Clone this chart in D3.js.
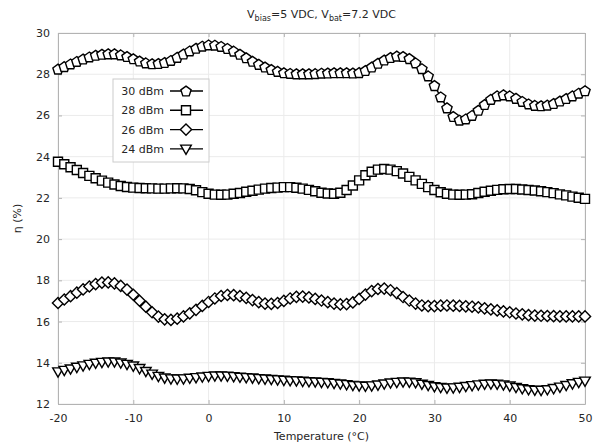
<!DOCTYPE html>
<html>
<head>
<meta charset="utf-8">
<script src="https://cdn.jsdelivr.net/npm/d3@7"></script>
<style>
  body { margin: 0; background: #fff; }
  text { font-family: "DejaVu Sans", sans-serif; fill: #262626; }
</style>
</head>
<body>
<svg id="chart"></svg>
<script>
// 85 readings spread evenly between -20 and 50 degrees
const temps = d3.range(85).map(k => -20 + k * 70 / 84);

const eff30 = [28.25, 28.37, 28.5, 28.62, 28.74, 28.84, 28.92, 28.97, 28.99, 28.99,
  28.94, 28.86, 28.75, 28.64, 28.55, 28.51, 28.52, 28.57, 28.67, 28.82,
  28.98, 29.13, 29.26, 29.36, 29.42, 29.41, 29.35, 29.25, 29.12, 28.97,
  28.8, 28.63, 28.48, 28.35, 28.23, 28.14, 28.07, 28.04, 28.02, 28.02,
  28.02, 28.03, 28.05, 28.06, 28.07, 28.07, 28.07, 28.06, 28.08, 28.18,
  28.35, 28.53, 28.69, 28.81, 28.88, 28.86, 28.76, 28.55, 28.27, 27.92,
  27.45, 26.9, 26.37, 25.95, 25.77, 25.83, 26.0, 26.25, 26.53, 26.78,
  26.95, 27.0, 26.95, 26.83, 26.68, 26.56, 26.49, 26.47, 26.5, 26.58,
  26.7, 26.82, 26.95, 27.08, 27.2];

const eff28 = [23.75, 23.63, 23.49, 23.35, 23.21, 23.07, 22.95, 22.84, 22.74, 22.65,
  22.58, 22.53, 22.5, 22.48, 22.47, 22.46, 22.45, 22.45, 22.46, 22.47,
  22.46, 22.43, 22.37, 22.28, 22.2, 22.16, 22.15, 22.16, 22.2, 22.24,
  22.3, 22.35, 22.4, 22.45, 22.48, 22.5, 22.52, 22.52, 22.49, 22.45,
  22.39, 22.32, 22.25, 22.21, 22.2, 22.25, 22.38, 22.6, 22.85, 23.1,
  23.27, 23.37, 23.4, 23.37, 23.3, 23.18, 23.02, 22.85, 22.68, 22.52,
  22.38, 22.27, 22.2, 22.16, 22.15, 22.16, 22.18, 22.24, 22.3, 22.35,
  22.39, 22.42, 22.43, 22.43, 22.41, 22.38, 22.36, 22.32, 22.28, 22.23,
  22.17, 22.12, 22.06, 22.01, 21.95];

const eff26 = [16.9, 17.07, 17.23, 17.4, 17.56, 17.7, 17.82, 17.89, 17.9, 17.85,
  17.73, 17.55, 17.3, 17.01, 16.72, 16.45, 16.24, 16.11, 16.08, 16.14,
  16.25, 16.4, 16.57, 16.76, 16.95, 17.12, 17.24, 17.29, 17.28, 17.23,
  17.15, 17.04, 16.94, 16.87, 16.86, 16.9, 17.0, 17.12, 17.2, 17.21,
  17.17, 17.1, 17.02, 16.94, 16.87, 16.83, 16.85, 16.93, 17.1, 17.31,
  17.48, 17.58, 17.6, 17.52, 17.38, 17.19, 17.02, 16.87, 16.78, 16.75,
  16.75, 16.77, 16.78, 16.77, 16.76, 16.74, 16.72, 16.69, 16.64, 16.59,
  16.54, 16.49, 16.45, 16.39, 16.35, 16.31, 16.29, 16.28, 16.27, 16.26,
  16.25, 16.25, 16.25, 16.25, 16.25];

const eff24 = [13.57, 13.64, 13.71, 13.79, 13.86, 13.93, 13.99, 14.03, 14.05, 14.05,
  14.0, 13.93, 13.85, 13.73, 13.59, 13.46, 13.35, 13.27, 13.23, 13.22,
  13.23, 13.26, 13.29, 13.32, 13.35, 13.37, 13.37, 13.36, 13.34, 13.31,
  13.29, 13.27, 13.24, 13.22, 13.2, 13.18, 13.16, 13.14, 13.13, 13.11,
  13.09, 13.08, 13.06, 13.04, 13.01, 12.98, 12.95, 12.91, 12.89, 12.87,
  12.89, 12.93, 12.98, 13.03, 13.06, 13.08, 13.07, 13.04, 12.97, 12.91,
  12.85, 12.81, 12.78, 12.79, 12.82, 12.86, 12.9, 12.94, 12.97, 12.98,
  12.97, 12.94, 12.88, 12.81, 12.75, 12.7, 12.68, 12.67, 12.7, 12.76,
  12.83, 12.91, 12.99, 13.06, 13.12];

const seriesNames = ["30 dBm", "28 dBm", "26 dBm", "24 dBm"];
const seriesValues = [eff30, eff28, eff26, eff24];
const seriesMarkers = ["pentagon", "square", "diamond", "triangleDown"];

const xTicks = [-20, -10, 0, 10, 20, 30, 40, 50];
const yTicks = [12, 14, 16, 18, 20, 22, 24, 26, 28, 30];

const width = 594, height = 443;
const margin = { top: 33, right: 9, bottom: 39, left: 58 };
const innerW = width - margin.left - margin.right;
const innerH = height - margin.top - margin.bottom;

const svg = d3.select("#chart").attr("width", width).attr("height", height);
const chart = svg.append("g").attr("transform", `translate(${margin.left},${margin.top})`);

const xScale = d3.scaleLinear().domain([-20, 50]).range([0, innerW]);
const yScale = d3.scaleLinear().domain([12, 30]).range([innerH, 0]);

// marker shapes, centred on 0,0
function markerPath(kind) {
  if (kind === "pentagon") {
    const r = 5.4;
    const pts = d3.range(5).map(i => {
      const a = -Math.PI / 2 + i * 2 * Math.PI / 5;
      return [r * Math.cos(a), r * Math.sin(a) + 0.5];
    });
    return "M" + pts.join("L") + "Z";
  }
  if (kind === "square") return "M-4.5,-4.5H4.5V4.5H-4.5Z";
  if (kind === "diamond") return "M0,-5.6L5.6,0L0,5.6L-5.6,0Z";
  return "M-5.3,-3.8H5.3L0,5.4Z";
}

// grid
chart.append("g")
  .selectAll("line").data(xTicks).join("line")
  .attr("x1", d => xScale(d)).attr("x2", d => xScale(d))
  .attr("y1", 0).attr("y2", innerH)
  .attr("stroke", "#ebebeb").attr("stroke-width", 1);
chart.append("g")
  .selectAll("line").data(yTicks).join("line")
  .attr("x1", 0).attr("x2", innerW)
  .attr("y1", d => yScale(d)).attr("y2", d => yScale(d))
  .attr("stroke", "#ebebeb").attr("stroke-width", 1);

// axes, ticks pointing inward
const xAxis = chart.append("g")
  .attr("transform", `translate(0,${innerH})`)
  .call(d3.axisBottom(xScale).tickValues(xTicks).tickFormat(d => String(d))
    .tickSizeInner(-4).tickSizeOuter(0).tickPadding(10));
const yAxis = chart.append("g")
  .call(d3.axisLeft(yScale).tickValues(yTicks).tickFormat(d => String(d))
    .tickSizeInner(-4).tickSizeOuter(0).tickPadding(8));
const xTop = chart.append("g")
  .call(d3.axisTop(xScale).tickValues(xTicks).tickSizeInner(-4).tickSizeOuter(0).tickFormat(""));
const yRight = chart.append("g")
  .attr("transform", `translate(${innerW},0)`)
  .call(d3.axisRight(yScale).tickValues(yTicks).tickSizeInner(-4).tickSizeOuter(0).tickFormat(""));

[xAxis, yAxis, xTop, yRight].forEach(ax => {
  ax.select(".domain").attr("stroke", "#b3b3b3");
  ax.selectAll(".tick line").attr("stroke", "#b3b3b3");
  ax.selectAll(".tick text").attr("font-size", 11).attr("fill", "#262626")
    .attr("font-family", "DejaVu Sans, sans-serif");
});

// series: line first, then the markers on top
const line = d3.line()
  .x((d, i) => xScale(temps[i]))
  .y(d => yScale(d));

seriesValues.forEach((vals, k) => {
  const g = chart.append("g");
  g.append("path")
    .datum(vals)
    .attr("fill", "none")
    .attr("stroke", "#000")
    .attr("stroke-width", 1.4)
    .attr("d", line);
  g.selectAll("path.mk").data(vals).join("path")
    .attr("class", "mk")
    .attr("d", markerPath(seriesMarkers[k]))
    .attr("transform", (d, i) => `translate(${xScale(temps[i])},${yScale(d)})`)
    .attr("fill", "#fff")
    .attr("stroke", "#000")
    .attr("stroke-width", 1.4);
});

// legend
const legend = svg.append("g").attr("transform", "translate(113,79)");
legend.append("rect")
  .attr("width", 96).attr("height", 83)
  .attr("fill", "#fff").attr("stroke", "#cccccc").attr("stroke-width", 1);
seriesNames.forEach((name, k) => {
  const y = 12 + k * 19.3;
  legend.append("text")
    .attr("x", 51).attr("y", y + 4)
    .attr("text-anchor", "end")
    .attr("font-size", 11)
    .text(name);
  legend.append("line")
    .attr("x1", 57).attr("x2", 90).attr("y1", y).attr("y2", y)
    .attr("stroke", "#000").attr("stroke-width", 1.4);
  legend.append("path")
    .attr("d", markerPath(seriesMarkers[k]))
    .attr("transform", `translate(73,${y})`)
    .attr("fill", "#fff").attr("stroke", "#000").attr("stroke-width", 1.4);
});

// title with subscripts
const title = svg.append("text")
  .attr("x", margin.left + innerW / 2).attr("y", 18)
  .attr("text-anchor", "middle")
  .attr("font-size", 11);
title.append("tspan").text("V");
title.append("tspan").attr("font-size", 8).attr("dy", 3).text("bias");
title.append("tspan").attr("dy", -3).text("=5 VDC, V");
title.append("tspan").attr("font-size", 8).attr("dy", 3).text("bat");
title.append("tspan").attr("dy", -3).text("=7.2 VDC");

// axis labels
svg.append("text")
  .attr("x", margin.left + innerW / 2).attr("y", 440)
  .attr("text-anchor", "middle")
  .attr("font-size", 11)
  .text("Temperature (°C)");
svg.append("text")
  .attr("transform", `translate(21,${margin.top + innerH / 2}) rotate(-90)`)
  .attr("text-anchor", "middle")
  .attr("font-size", 11)
  .text("η (%)");
</script>
</body>
</html>
